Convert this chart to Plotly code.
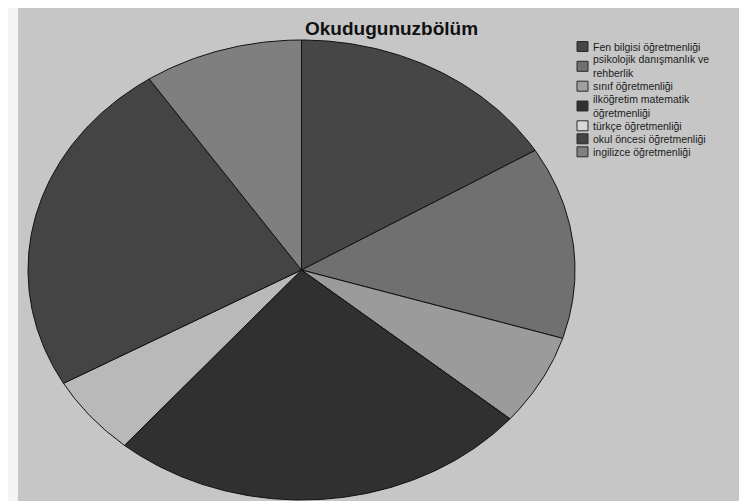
import numpy as np
import plotly.graph_objects as go

# ---- data ----
categories = [
    "Fen bilgisi öğretmenliği",
    "psikolojik danışmanlık ve rehberlik",
    "sınıf öğretmenliği",
    "ilköğretim matematik öğretmenliği",
    "türkçe öğretmenliği",
    "okul öncesi öğretmenliği",
    "ingilizce öğretmenliği",
]
values = [16.3, 13.5, 6.4, 25.0, 5.6, 23.8, 9.4]
legend_labels = [
    "Fen bilgisi öğretmenliği",
    "psikolojik danışmanlık ve<br>rehberlik",
    "sınıf öğretmenliği",
    "ilköğretim matematik<br>öğretmenliği",
    "türkçe öğretmenliği",
    "okul öncesi öğretmenliği",
    "ingilizce öğretmenliği",
]
title_text = "Okudugunuzbölüm"

# ---- styles ----
colors = ["#464646", "#707070", "#9b9b9b", "#303030", "#b9b9b9", "#444444", "#7f7f7f"]
legend_colors = ["#464646", "#707070", "#a0a0a0", "#303030", "#d8d8d8", "#444444", "#808080"]
bg = "#c6c6c6"

W, H = 747, 501
ml, mr, mt, mb = 10, 0, 0, 4
pw, ph = W - ml - mr, H - mt - mb
cx_px, cy_px, rx_px, ry_px = 293.5 - ml, 262.0 - mt, 273.5, 230.0

fig = go.Figure()

vals = np.array(values, dtype=float)
cum = np.concatenate([[0], np.cumsum(vals)]) / vals.sum()
for i, cat in enumerate(categories):
    t0, t1 = cum[i] * 2 * np.pi, cum[i + 1] * 2 * np.pi
    n = max(int((t1 - t0) / (2 * np.pi) * 720), 4)
    t = np.linspace(t0, t1, n)
    xs = np.concatenate([[0], np.sin(t), [0]])
    ys = np.concatenate([[0], np.cos(t), [0]])
    fig.add_trace(go.Scatter(
        x=xs, y=ys, mode="lines", fill="toself",
        fillcolor=colors[i], line=dict(color="#111111", width=1),
        name=cat, showlegend=False, hoverinfo="name",
    ))

# custom legend (layout positions in px)
row_y = [38.5, 58.3, 78.2, 98.0, 117.8, 130.8, 143.8]
sq_x0, sq_x1, txt_x = 569, 580, 584
for i, lab in enumerate(legend_labels):
    yc = row_y[i]
    fig.add_shape(type="rect", xref="paper", yref="paper",
                  x0=(sq_x0 - ml) / pw, x1=(sq_x1 - ml) / pw,
                  y0=1 - (yc + 5 - mt) / ph, y1=1 - (yc - 5 - mt) / ph,
                  fillcolor=legend_colors[i], line=dict(color="#2a2a2a", width=1))
    fig.add_annotation(text=lab, xref="paper", yref="paper",
                       x=(txt_x - ml) / pw, y=1 - (yc - mt) / ph,
                       xanchor="left", yanchor="middle", align="left",
                       showarrow=False, borderpad=0,
                       font=dict(family="Liberation Sans, Arial", size=10.5, color="#1a1a1a"))

fig.add_annotation(text="<b>" + title_text + "</b>", xref="paper", yref="paper",
                   x=(383.5 - ml) / pw, y=1 - (20 - mt) / ph,
                   xanchor="center", yanchor="middle", showarrow=False,
                   font=dict(family="Liberation Sans, Arial", size=19, color="#111111"))

fig.update_xaxes(range=[-cx_px / rx_px, (pw - cx_px) / rx_px], visible=False, fixedrange=True)
fig.update_yaxes(range=[-(ph - cy_px) / ry_px, cy_px / ry_px], visible=False, fixedrange=True)
fig.update_layout(
    width=W, height=H,
    margin=dict(l=ml, r=mr, t=mt, b=mb, pad=0),
    paper_bgcolor="#f4f4f4", plot_bgcolor=bg,
    showlegend=False,
)
fig.write_html("out.html")
